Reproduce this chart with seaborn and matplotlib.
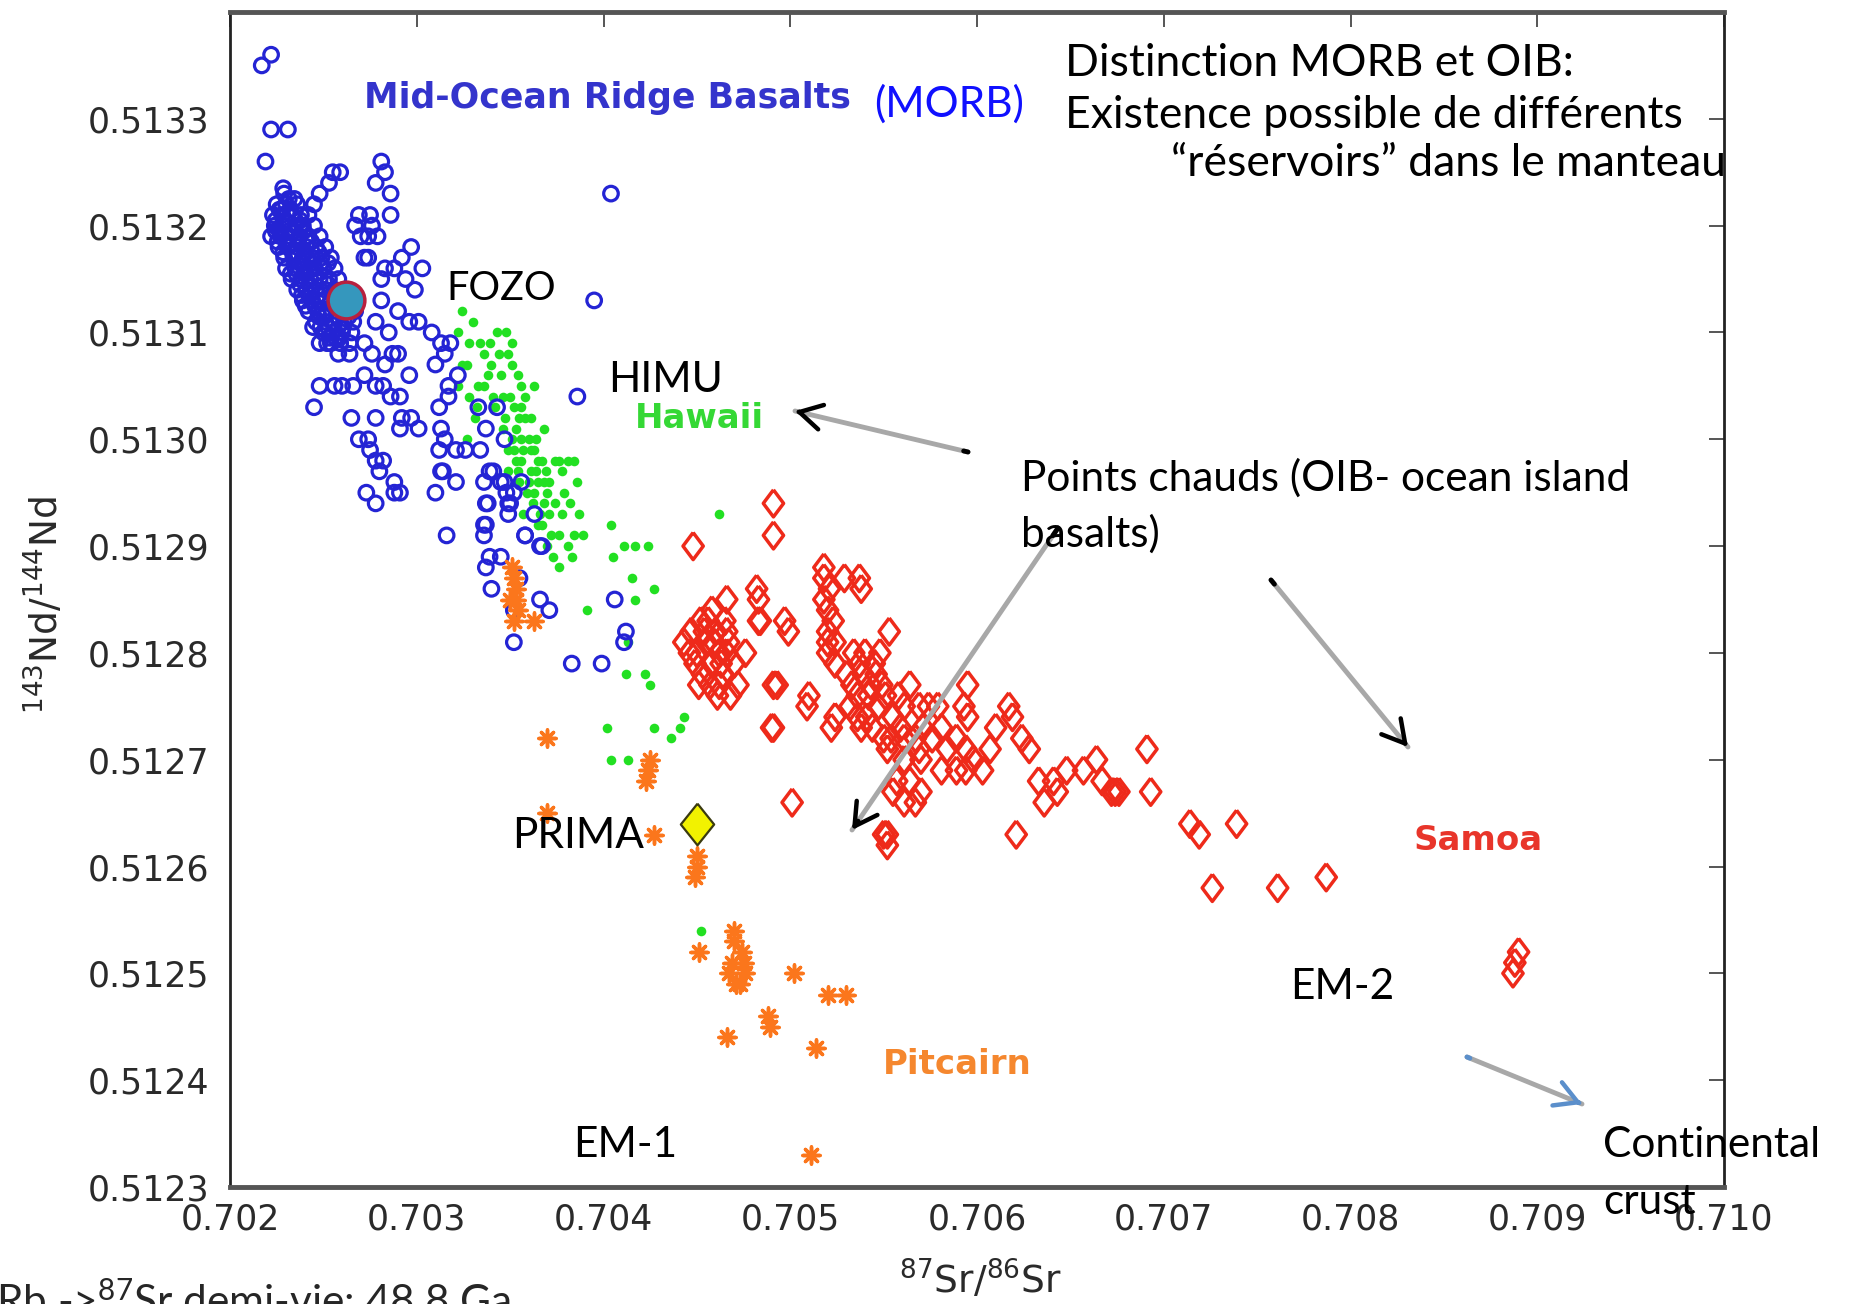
import numpy as np
import pandas as pd
import seaborn as sns
import matplotlib.pyplot as plt

# ---------------------------------------------------------------
# Valeurs (87Sr/86Sr , 143Nd/144Nd)
# ---------------------------------------------------------------
morb_sr = [
    0.70217, 0.70222, 0.70222, 0.70231, 0.70219, 0.70404, 0.70395, 0.70386,
    0.70281, 0.70259, 0.70283, 0.70278, 0.70286, 0.70253, 0.70248, 0.70245, 0.70255,
    0.70286, 0.70269, 0.70275, 0.70270, 0.70274, 0.70279, 0.70267, 0.70276,
    0.70297, 0.70292, 0.70303, 0.70283, 0.70288, 0.70294, 0.70299, 0.70274, 0.70272, 0.70281,
    0.70225, 0.70230, 0.70236, 0.70229,
    0.70223, 0.70228, 0.70233, 0.70238, 0.70242,
    0.70224, 0.70229, 0.70235, 0.70239, 0.70245,
    0.70222, 0.70227, 0.70232, 0.70237, 0.70242, 0.70248,
    0.70226, 0.70231, 0.70236, 0.70241, 0.70246, 0.70251,
    0.70229, 0.70234, 0.70239, 0.70244, 0.70249, 0.70254,
    0.70230, 0.70235, 0.70240, 0.70245, 0.70250, 0.70256,
    0.70233, 0.70238, 0.70243, 0.70248, 0.70253, 0.70258,
    0.70236, 0.70241, 0.70246, 0.70251, 0.70256, 0.70261,
    0.70239, 0.70244, 0.70249, 0.70254, 0.70259, 0.70265,
    0.70242, 0.70247, 0.70252, 0.70257, 0.70262, 0.70267,
    0.70246, 0.70251, 0.70256, 0.70261, 0.70266,
    0.70250, 0.70255, 0.70260, 0.70265,
    0.70254, 0.70259, 0.70264,
    0.702275, 0.702325, 0.702375, 0.702265, 0.702315, 0.702365, 0.702415, 0.702285,
    0.702335, 0.702385, 0.702435, 0.702485, 0.702325, 0.702375, 0.702425, 0.702475,
    0.702525, 0.702405, 0.702455, 0.702505, 0.702555, 0.702605, 0.702485, 0.702535,
    0.702585, 0.702635, 0.702245, 0.702345, 0.702285,
    0.702255, 0.702305, 0.702355, 0.702405, 0.702455, 0.702355, 0.702405, 0.702505,
    0.702425, 0.702555, 0.702475, 0.702525, 0.702575, 0.702625, 0.702565, 0.702265,
    0.702315, 0.702245, 0.702295, 0.702345, 0.702395, 0.702435, 0.702475, 0.702525,
    0.702385, 0.702445,
    0.70248, 0.70252, 0.70258, 0.70264, 0.70281, 0.70278, 0.70285, 0.70290, 0.70296,
    0.70301, 0.70308, 0.70313, 0.70318, 0.70315, 0.70322, 0.70310, 0.70272, 0.70276,
    0.70287, 0.70290, 0.70296, 0.70283,
    0.70248, 0.70256, 0.70260, 0.70266, 0.70272, 0.70278, 0.70282, 0.70286, 0.70291, 0.70245,
    0.70265, 0.70278, 0.70292, 0.70297, 0.70291, 0.70301,
    0.70269, 0.70274, 0.70275, 0.70278, 0.70282, 0.70280, 0.70288, 0.70288, 0.70291, 0.70273, 0.70278,
    0.70313, 0.70315, 0.70312, 0.70321, 0.70326, 0.70334, 0.70313, 0.70321, 0.70310,
    0.70317, 0.70317, 0.70312,
    0.70333, 0.70343, 0.70337, 0.70347, 0.70356, 0.70341, 0.70347, 0.70336, 0.70338, 0.70349,
    0.70352, 0.70363, 0.70358, 0.70336, 0.70336, 0.70316, 0.70366,
    0.70314, 0.70339, 0.70345, 0.70348, 0.70337, 0.70350, 0.70349,
    0.70367, 0.70371, 0.70366, 0.70358,
    0.70337, 0.70339, 0.70345, 0.70337, 0.70355, 0.70340, 0.70352, 0.70352,
    0.70406, 0.70412, 0.70411, 0.70383, 0.70399,
]
morb_nd = [
    0.51335, 0.51336, 0.51329, 0.51329, 0.51326, 0.51323, 0.51313, 0.51304,
    0.51326, 0.51325, 0.51325, 0.51324, 0.51323, 0.51324, 0.51323, 0.51322, 0.51325,
    0.51321, 0.51321, 0.51321, 0.51319, 0.51319, 0.51319, 0.51320, 0.51320,
    0.51318, 0.51317, 0.51316, 0.51316, 0.51316, 0.51315, 0.51314, 0.51317, 0.51317, 0.51315,
    0.51322, 0.51322, 0.51322, 0.51323,
    0.51321, 0.51321, 0.51321, 0.51321, 0.51321,
    0.51320, 0.51320, 0.51320, 0.51320, 0.51320,
    0.51319, 0.51319, 0.51319, 0.51319, 0.51319, 0.51319,
    0.51318, 0.51318, 0.51318, 0.51318, 0.51318, 0.51318,
    0.51317, 0.51317, 0.51317, 0.51317, 0.51317, 0.51317,
    0.51316, 0.51316, 0.51316, 0.51316, 0.51316, 0.51316,
    0.51315, 0.51315, 0.51315, 0.51315, 0.51315, 0.51315,
    0.51314, 0.51314, 0.51314, 0.51314, 0.51314, 0.51314,
    0.51313, 0.51313, 0.51313, 0.51313, 0.51313, 0.51313,
    0.51312, 0.51312, 0.51312, 0.51312, 0.51312, 0.51312,
    0.51311, 0.51311, 0.51311, 0.51311, 0.51311,
    0.51310, 0.51310, 0.51310, 0.51310,
    0.51309, 0.51309, 0.51309,
    0.513215, 0.513215, 0.513205, 0.513195, 0.513195, 0.513185, 0.513185, 0.513175,
    0.513175, 0.513165, 0.513165, 0.513165, 0.513155, 0.513145, 0.513145, 0.513135,
    0.513145, 0.513125, 0.513125, 0.513115, 0.513125, 0.513105, 0.513105, 0.513095,
    0.513095, 0.513115, 0.513205, 0.513225, 0.513235,
    0.513185, 0.513185, 0.513175, 0.513175, 0.513155, 0.513155, 0.513155, 0.513135,
    0.513135, 0.513135, 0.513115, 0.513105, 0.513115, 0.513125, 0.513095, 0.513215,
    0.513225, 0.513195, 0.513205, 0.513195, 0.513195, 0.513185, 0.513175, 0.513165,
    0.513135, 0.513105,
    0.51309, 0.51309, 0.51308, 0.51308, 0.51313, 0.51311, 0.51310, 0.51312, 0.51311,
    0.51311, 0.51310, 0.51309, 0.51309, 0.51308, 0.51306, 0.51307, 0.51309, 0.51308,
    0.51308, 0.51308, 0.51306, 0.51307,
    0.51305, 0.51305, 0.51305, 0.51305, 0.51306, 0.51305, 0.51305, 0.51304, 0.51304, 0.51303,
    0.51302, 0.51302, 0.51302, 0.51302, 0.51301, 0.51301,
    0.51300, 0.51300, 0.51299, 0.51298, 0.51298, 0.51297, 0.51296, 0.51295, 0.51295, 0.51295, 0.51294,
    0.51301, 0.51300, 0.51299, 0.51299, 0.51299, 0.51299, 0.51297, 0.51296, 0.51295,
    0.51305, 0.51304, 0.51303,
    0.51303, 0.51303, 0.51301, 0.51300, 0.51296, 0.51297, 0.51296, 0.51296, 0.51294, 0.51294,
    0.51295, 0.51293, 0.51291, 0.51292, 0.51291, 0.51291, 0.51290,
    0.51297, 0.51297, 0.51296, 0.51295, 0.51294, 0.51294, 0.51293,
    0.51290, 0.51284, 0.51285, 0.51291,
    0.51292, 0.51289, 0.51289, 0.51288, 0.51287, 0.51286, 0.51281, 0.51284,
    0.51285, 0.51282, 0.51281, 0.51279, 0.51279,
]

hawaii_sr = [
    0.70324, 0.70322, 0.70328, 0.70334, 0.70348, 0.70349, 0.70336, 0.70324, 0.70336, 0.70351,
    0.70356, 0.70363, 0.70322, 0.70328, 0.70333, 0.70356, 0.70352, 0.70361, 0.70368, 0.70351,
    0.70356, 0.70361, 0.70363, 0.70374, 0.70381, 0.70378, 0.70352, 0.70356, 0.70361, 0.70365,
    0.70370, 0.70374, 0.70378, 0.70387, 0.70365, 0.70372, 0.70376, 0.70381,
    0.70365, 0.70376, 0.70384, 0.70368, 0.70379, 0.70384, 0.70383,
    0.70404, 0.70411, 0.70417, 0.70424, 0.70405, 0.70415, 0.70427, 0.70391, 0.70417, 0.70462,
    0.70413, 0.70412, 0.70422, 0.70425, 0.70402, 0.70427, 0.70436, 0.70441, 0.70443,
    0.70404, 0.70413, 0.70452,
    0.70345, 0.70350, 0.70354, 0.70347, 0.70353, 0.70358, 0.70349, 0.70355, 0.70359, 0.70362,
    0.70366, 0.70360, 0.70364, 0.70368, 0.70371, 0.70358, 0.70346, 0.70353, 0.70357, 0.70369,
    0.70340, 0.70330, 0.70343, 0.70351, 0.70331, 0.70327,
    0.70338, 0.70342, 0.70346, 0.70349, 0.70354, 0.70357, 0.70360, 0.70363, 0.70367, 0.70370,
    0.70373, 0.70376, 0.70355, 0.70344, 0.70339, 0.70341, 0.70364, 0.70367, 0.70371, 0.70382,
    0.70386, 0.70389, 0.70327, 0.70332,
]
hawaii_nd = [
    0.51312, 0.51310, 0.51309, 0.51309, 0.51310, 0.51308, 0.51308, 0.51307, 0.51305, 0.51307,
    0.51305, 0.51305, 0.51305, 0.51304, 0.51305, 0.51303, 0.51303, 0.51302, 0.51301, 0.51300,
    0.51300, 0.51299, 0.51299, 0.51298, 0.51298, 0.51297, 0.51299, 0.51298, 0.51297, 0.51296,
    0.51295, 0.51294, 0.51293, 0.51293, 0.51292, 0.51291, 0.51291, 0.51290,
    0.51298, 0.51298, 0.51298, 0.51296, 0.51295, 0.51291, 0.51289,
    0.51292, 0.51290, 0.51290, 0.51290, 0.51289, 0.51287, 0.51286, 0.51284, 0.51285, 0.51293,
    0.51281, 0.51278, 0.51278, 0.51277, 0.51273, 0.51273, 0.51272, 0.51273, 0.51274,
    0.51270, 0.51270, 0.51254,
    0.51306, 0.51304, 0.51306, 0.51302, 0.51301, 0.51302, 0.51297, 0.51296, 0.51295, 0.51294,
    0.51293, 0.51300, 0.51297, 0.51294, 0.51293, 0.51304, 0.51304, 0.51298, 0.51293, 0.51297,
    0.51307, 0.51311, 0.51310, 0.51309, 0.51302, 0.51300,
    0.51306, 0.51303, 0.51301, 0.51299, 0.51297, 0.51299, 0.51296, 0.51295, 0.51292, 0.51290,
    0.51289, 0.51288, 0.51302, 0.51308, 0.51309, 0.51304, 0.51300, 0.51298, 0.51296, 0.51294,
    0.51296, 0.51291, 0.51307, 0.51303,
]

samoa_sr = [
    0.70448, 0.70491, 0.70491, 0.70466, 0.70483, 0.70483, 0.70518, 0.70518, 0.70529, 0.70537,
    0.70518, 0.70521, 0.70538, 0.70499, 0.70520, 0.70553, 0.70482, 0.70497, 0.70520, 0.70523,
    0.70466, 0.70484,
    0.70443, 0.70447, 0.70450, 0.70452, 0.70455, 0.70458, 0.70460, 0.70462, 0.70464, 0.70457,
    0.70467, 0.70470, 0.70453, 0.70449, 0.70465, 0.70472, 0.70476, 0.70461, 0.70456, 0.70468,
    0.70446, 0.70454, 0.70459, 0.70463, 0.70451, 0.70466, 0.70458, 0.70462,
    0.70491, 0.70510, 0.70520, 0.70520, 0.70524, 0.70524, 0.70522, 0.70491, 0.70493, 0.70509,
    0.70490, 0.70524,
    0.70530, 0.70534, 0.70536, 0.70539, 0.70541, 0.70543, 0.70545, 0.70547, 0.70549, 0.70538,
    0.70532, 0.70551, 0.70544, 0.70540,
    0.70533, 0.70537, 0.70542, 0.70546, 0.70536, 0.70548,
    0.70554, 0.70501, 0.70552,
    0.70564, 0.70558, 0.70561, 0.70555, 0.70550, 0.70552, 0.70561, 0.70559, 0.70557, 0.70555,
    0.70561, 0.70550, 0.70552, 0.70567, 0.70570, 0.70564, 0.70570, 0.70561, 0.70567,
    0.70569, 0.70574, 0.70579, 0.70571, 0.70581, 0.70576, 0.70584, 0.70569, 0.70589, 0.70594,
    0.70598, 0.70603, 0.70594, 0.70589, 0.70581,
    0.70595, 0.70593, 0.70595, 0.70617, 0.70619, 0.70610, 0.70607, 0.70624,
    0.70628, 0.70633, 0.70641, 0.70643, 0.70636, 0.70648, 0.70657, 0.70664, 0.70667, 0.70672,
    0.70674, 0.70676, 0.70693, 0.70691, 0.70621, 0.70714, 0.70719, 0.70739,
    0.70726, 0.70761, 0.70787, 0.70890, 0.70888, 0.70887,
]
samoa_nd = [
    0.51290, 0.51294, 0.51291, 0.51285, 0.51285, 0.51283, 0.51288, 0.51287, 0.51287, 0.51287,
    0.51285, 0.51286, 0.51286, 0.51282, 0.51282, 0.51282, 0.51286, 0.51283, 0.51284, 0.51283,
    0.51282, 0.51283,
    0.51281, 0.51282, 0.51280, 0.51283, 0.51281, 0.51279, 0.51282, 0.51280, 0.51278, 0.51277,
    0.51281, 0.51279, 0.51278, 0.51279, 0.51283, 0.51277, 0.51280, 0.51276, 0.51283, 0.51276,
    0.51280, 0.51282, 0.51281, 0.51279, 0.51277, 0.51280, 0.51284, 0.51277,
    0.51277, 0.51276, 0.51281, 0.51280, 0.51281, 0.51279, 0.51273, 0.51273, 0.51277, 0.51275,
    0.51273, 0.51274,
    0.51278, 0.51280, 0.51276, 0.51278, 0.51274, 0.51277, 0.51279, 0.51275, 0.51277, 0.51273,
    0.51275, 0.51276, 0.51273, 0.51280,
    0.51277, 0.51279, 0.51276, 0.51278, 0.51274, 0.51280,
    0.51272, 0.51266, 0.51263,
    0.51277, 0.51276, 0.51275, 0.51274, 0.51272, 0.51271, 0.51272, 0.51273, 0.51268, 0.51267,
    0.51266, 0.51263, 0.51262, 0.51266, 0.51267, 0.51268, 0.51270, 0.51270, 0.51272,
    0.51275, 0.51275, 0.51275, 0.51273, 0.51273, 0.51272, 0.51271, 0.51271, 0.51272, 0.51271,
    0.51270, 0.51269, 0.51269, 0.51269, 0.51269,
    0.51277, 0.51275, 0.51274, 0.51275, 0.51274, 0.51273, 0.51271, 0.51272,
    0.51271, 0.51268, 0.51268, 0.51267, 0.51266, 0.51269, 0.51269, 0.51270, 0.51268, 0.51267,
    0.51267, 0.51267, 0.51267, 0.51271, 0.51263, 0.51264, 0.51263, 0.51264,
    0.51258, 0.51258, 0.51259, 0.51252, 0.51251, 0.51250,
]

pitcairn_sr = [
    0.70351, 0.70353, 0.70353, 0.70354, 0.70352, 0.70350, 0.70352, 0.70363, 0.70370, 0.70424,
    0.70423, 0.70425, 0.70370, 0.70427, 0.70450, 0.70450, 0.70451, 0.70470, 0.70470, 0.70474,
    0.70475, 0.70467, 0.70473, 0.70476, 0.70471, 0.70502, 0.70520, 0.70530, 0.70488, 0.70489,
    0.70466, 0.70514, 0.70511, 0.70469, 0.70449,
]
pitcairn_nd = [
    0.51288, 0.51286, 0.51285, 0.51284, 0.51283, 0.51285, 0.51287, 0.51283, 0.51272, 0.51269,
    0.51268, 0.51270, 0.51265, 0.51263, 0.51261, 0.51260, 0.51252, 0.51254, 0.51253, 0.51252,
    0.51251, 0.51250, 0.51249, 0.51250, 0.51249, 0.51250, 0.51248, 0.51248, 0.51246, 0.51245,
    0.51244, 0.51243, 0.51233, 0.51251, 0.51259,
]

fozo_sr, fozo_nd = [0.70262], [0.51313]
prima_sr, prima_nd = [0.70450], [0.51264]

sr_ticks = [0.702, 0.703, 0.704, 0.705, 0.706, 0.707, 0.708, 0.709, 0.710]
sr_labels = ["0.702", "0.703", "0.704", "0.705", "0.706", "0.707", "0.708", "0.709", "0.710"]
nd_ticks = [0.5123, 0.5124, 0.5125, 0.5126, 0.5127, 0.5128, 0.5129, 0.5130, 0.5131, 0.5132, 0.5133]
nd_labels = ["0.5123", "0.5124", "0.5125", "0.5126", "0.5127", "0.5128", "0.5129",
             "0.5130", "0.5131", "0.5132", "0.5133"]

# ---------------------------------------------------------------
sns.set_theme(style="white")
plt.rcParams["font.family"] = ["DejaVu Sans"]
plt.rcParams["mathtext.fontset"] = "dejavusans"
plt.rcParams["mathtext.rm"] = "Lato"
plt.rcParams["mathtext.it"] = "Lato:italic"
plt.rcParams["mathtext.bf"] = "Lato:bold"

W, H = 1851, 1304
fig = plt.figure(figsize=(W / 100, H / 100), dpi=100)
fig.patch.set_facecolor("white")
ax = fig.add_axes([230 / W, 1 - 1187 / H, 1494 / W, 1175 / H])


def fp(x, y):
    # pixel position in the figure -> figure fraction
    return x / W, 1 - y / H


blue = "#2424d4"
green = "#22e022"
red = "#ee2a1a"
orange = "#fb761c"

diamond = [(0, 1), (0.75, 0), (0, -1), (-0.75, 0), (0, 1)]
yellow_diamond = [(0, 1), (0.8, 0), (0, -1), (-0.8, 0), (0, 1)]

sns.scatterplot(x=hawaii_sr, y=hawaii_nd, ax=ax, marker="o", s=48, color=green,
                edgecolor=green, linewidth=0, zorder=2)
sns.scatterplot(x=morb_sr, y=morb_nd, ax=ax, marker="o", s=110, color=blue,
                facecolors="none", edgecolor=blue, linewidth=2.3, zorder=3)
sns.scatterplot(x=pitcairn_sr, y=pitcairn_nd, ax=ax, marker=(8, 2, 0), s=150, color=orange,
                edgecolor=orange, linewidth=2.5, zorder=4)
sns.scatterplot(x=samoa_sr, y=samoa_nd, ax=ax, marker=diamond, s=380, color=red,
                facecolors="none", edgecolor=red, linewidth=2.5, zorder=5)
sns.scatterplot(x=fozo_sr, y=fozo_nd, ax=ax, marker="o", s=700, color="#3597bd",
                edgecolor="#b8203e", linewidth=2.5, zorder=6)
sns.scatterplot(x=prima_sr, y=prima_nd, ax=ax, marker=yellow_diamond, s=900, color="#f2f200",
                edgecolor="#3a3a10", linewidth=1.6, zorder=6)

ax.set_xlim(0.702, 0.710)
ax.set_ylim(0.5123, 0.51340)
ax.set_xticks(sr_ticks, labels=sr_labels)
ax.set_yticks(nd_ticks, labels=nd_labels)
ax.set_xlabel("")
ax.set_ylabel("")
ax.tick_params(axis="both", direction="in", length=11, width=1.4, color="#555555",
               top=True, right=True, labelsize=25, labelcolor="#2a2a2a")
ax.tick_params(axis="y", pad=15)
ax.tick_params(axis="x", pad=11)
for side in ["left", "right"]:
    ax.spines[side].set_linewidth(2.0)
    ax.spines[side].set_color("#222222")
for side in ["top", "bottom"]:
    ax.spines[side].set_linewidth(3.5)
    ax.spines[side].set_color("#555555")
ax.set_facecolor("white")

# axis titles
fig.text(*fp(45, 605), r"$^{143}$Nd/$^{144}$Nd", rotation=90, ha="center", va="center",
         fontsize=27, color="#2a2a2a", math_fontfamily="dejavusans")
fig.text(*fp(980, 1280), r"$^{87}$Sr/$^{86}$Sr", ha="center", va="center",
         fontsize=27, color="#2a2a2a", math_fontfamily="dejavusans")

# group names from the original plot
bold = dict(fontweight="bold", family="DejaVu Sans", va="center", ha="left")
fig.text(*fp(364, 98), "Mid-Ocean Ridge Basalts", fontsize=25, color="#3434cc", **bold)
fig.text(*fp(635, 419), "Hawaii", fontsize=24.5, color="#35d835", **bold)
fig.text(*fp(1414, 840), "Samoa", fontsize=24.5, color="#e8352a", **bold)
fig.text(*fp(883, 1065), "Pitcairn", fontsize=24.5, color="#f5872e", **bold)

# slide annotations
note = dict(family="Lato", fontsize=30.5, color="black", va="center", ha="left", zorder=10)
fig.text(*fp(874, 104), "(MORB)", **{**note, "color": "#1010ff"})
fig.text(*fp(446, 289), "FOZO", **{**note, "fontsize": 28.5})
fig.text(*fp(608, 380), "HIMU", **note)
fig.text(*fp(1021, 478), "Points chauds (OIB- ocean island", **note)
fig.text(*fp(1021, 534), "basalts)", **note)
fig.text(*fp(512, 836), "PRIMA", **note)
fig.text(*fp(1290, 987), "EM-2", **note)
fig.text(*fp(573, 1145), "EM-1", **note)
fig.text(*fp(1603, 1145), "Continental", **note)
fig.text(*fp(1603, 1202), "crust", **note)
fig.text(*fp(-4, 1316), r"Rb ->$^{87}$Sr demi-vie: 48.8 Ga", family="Lato", fontsize=30.5,
         va="baseline", ha="left", math_fontfamily="custom")

comic = dict(family="Lato", fontsize=32, color="black", va="center", ha="left", zorder=10)
fig.text(*fp(1065, 63), "Distinction MORB et OIB:", **comic)
fig.text(*fp(1065, 115), "Existence possible de différents", **comic)
fig.text(*fp(1171, 163), "\u201cr\u00e9servoirs\u201d dans le manteau", **comic)

# arrows (grey shaft, dark open head, small mark at the tail)
arrows = [
    ((968, 452), (795, 411), "black"),
    ((1058, 528), (852, 830), "black"),
    ((1271, 580), (1408, 747), "black"),
    ((1467, 1057), (1582, 1104), "#5b8fcb"),
]
for tail, head, hc in arrows:
    ax.annotate("", xy=fp(*head), xytext=fp(*tail), xycoords="figure fraction",
                textcoords="figure fraction",
                arrowprops=dict(arrowstyle="-", color="#a8a8a8", lw=3.5,
                                shrinkA=0, shrinkB=0), zorder=8)
    dx, dy = head[0] - tail[0], head[1] - tail[1]
    near = (head[0] - 0.03 * dx, head[1] - 0.03 * dy)
    ax.annotate("", xy=fp(*head), xytext=fp(*near), xycoords="figure fraction",
                textcoords="figure fraction",
                arrowprops=dict(arrowstyle="->,head_length=0.8,head_width=0.45", color=hc,
                                lw=3.2, shrinkA=0, shrinkB=0, mutation_scale=20), zorder=9)
    t2 = (tail[0] + 0.025 * dx, tail[1] + 0.025 * dy)
    ax.annotate("", xy=fp(*t2), xytext=fp(*tail), xycoords="figure fraction",
                textcoords="figure fraction",
                arrowprops=dict(arrowstyle="-", color=hc, lw=3.5, shrinkA=0, shrinkB=0),
                zorder=9)

fig.savefig("out.png", dpi=100)
